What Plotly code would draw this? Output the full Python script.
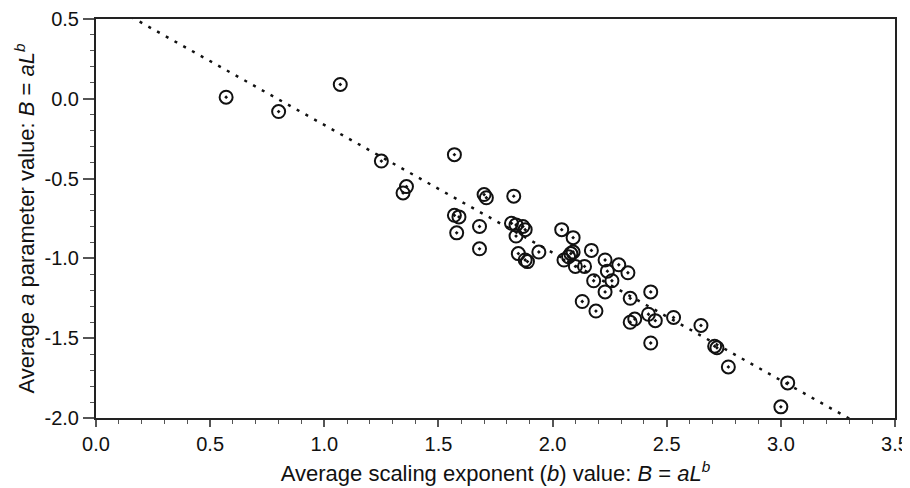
import plotly.graph_objects as go

# Data
b_values = [0.57, 0.80, 1.07, 1.25, 1.36, 1.345, 1.57, 1.70, 1.71, 1.83,
            1.57, 1.59, 1.58, 1.68, 1.68, 1.82, 1.84, 1.87, 1.88, 1.84,
            1.85, 1.88, 1.89, 1.94, 2.04, 2.09, 2.05, 2.08, 2.07, 2.09,
            2.10, 2.14, 2.17, 2.23, 2.29, 2.24, 2.33, 2.26, 2.18, 2.23,
            2.43, 2.34, 2.13, 2.19, 2.42, 2.45, 2.34, 2.36, 2.53, 2.43,
            2.65, 2.71, 2.72, 2.77, 3.03, 3.00]
a_values = [0.01, -0.08, 0.09, -0.39, -0.55, -0.59, -0.35, -0.60, -0.62, -0.61,
            -0.73, -0.74, -0.84, -0.80, -0.94, -0.78, -0.79, -0.80, -0.82, -0.86,
            -0.97, -1.01, -1.02, -0.96, -0.82, -0.87, -1.01, -0.97, -0.99, -0.96,
            -1.05, -1.05, -0.95, -1.01, -1.04, -1.08, -1.09, -1.14, -1.14, -1.21,
            -1.21, -1.25, -1.27, -1.33, -1.35, -1.39, -1.40, -1.38, -1.37, -1.53,
            -1.42, -1.55, -1.56, -1.68, -1.78, -1.93]

# Regression line: a = intercept + slope * b
fit_intercept = 0.636
fit_slope = -0.80
fit_x = [0.0, 3.5]
fit_y = [fit_intercept + fit_slope * x for x in fit_x]

x_ticks = [0.0, 0.5, 1.0, 1.5, 2.0, 2.5, 3.0, 3.5]
y_ticks = [0.5, 0.0, -0.5, -1.0, -1.5, -2.0]
y_tick_labels = ["0.5", "0.0", "-0.5", "-1.0", "-1.5", "-2.0"]

FONT = "Liberation Sans, Arial, Helvetica, sans-serif"

fig = go.Figure()
fig.add_trace(go.Scatter(
    x=fit_x, y=fit_y, mode="lines",
    line=dict(color="#111111", width=2.5, dash="3px,7px"),
    hoverinfo="skip", showlegend=False,
))
fig.add_trace(go.Scatter(
    x=b_values, y=a_values, mode="markers",
    marker=dict(symbol="circle-open-dot", size=13, color="#111111",
                line=dict(color="#111111", width=2)),
    showlegend=False,
))

axis_common = dict(
    showgrid=False, zeroline=False, showline=True, mirror=True,
    linecolor="#222222", linewidth=2,
    ticks="outside", tickcolor="#555555", tickwidth=1.5,
    tickfont=dict(family=FONT, size=20, color="#111111"),
)

fig.update_xaxes(
    range=[0, 3.5], tickvals=x_ticks, tickformat=".1f", ticklen=7,
    minor=dict(dtick=0.1, ticks="outside", ticklen=4, tickcolor="#555555", tickwidth=1.2),
    title=dict(text="Average scaling exponent (<i>b</i>) value: <i>B</i> = <i>aL</i><sup><i>b</i></sup>",
               font=dict(family=FONT, size=22, color="#111111"), standoff=12),
    **axis_common,
)
fig.update_yaxes(
    range=[-2.0, 0.5], tickvals=y_ticks, ticktext=y_tick_labels, ticklen=11,
    minor=dict(dtick=0.1, ticks="outside", ticklen=4, tickcolor="#555555", tickwidth=1.2),
    title=dict(text="Average <i>a</i> parameter value: <i>B</i> = <i>aL</i><sup><i>b</i></sup>",
               font=dict(family=FONT, size=22, color="#111111"), standoff=4),
    **axis_common,
)

# The page body adds an 8px offset, so the figure is 902x480 with margins adjusted
fig.update_layout(
    width=902, height=480,
    margin=dict(l=88, r=15, t=11, b=70, autoexpand=False),
    paper_bgcolor="white", plot_bgcolor="white",
    font=dict(family=FONT),
)

fig.write_html("out.html")
